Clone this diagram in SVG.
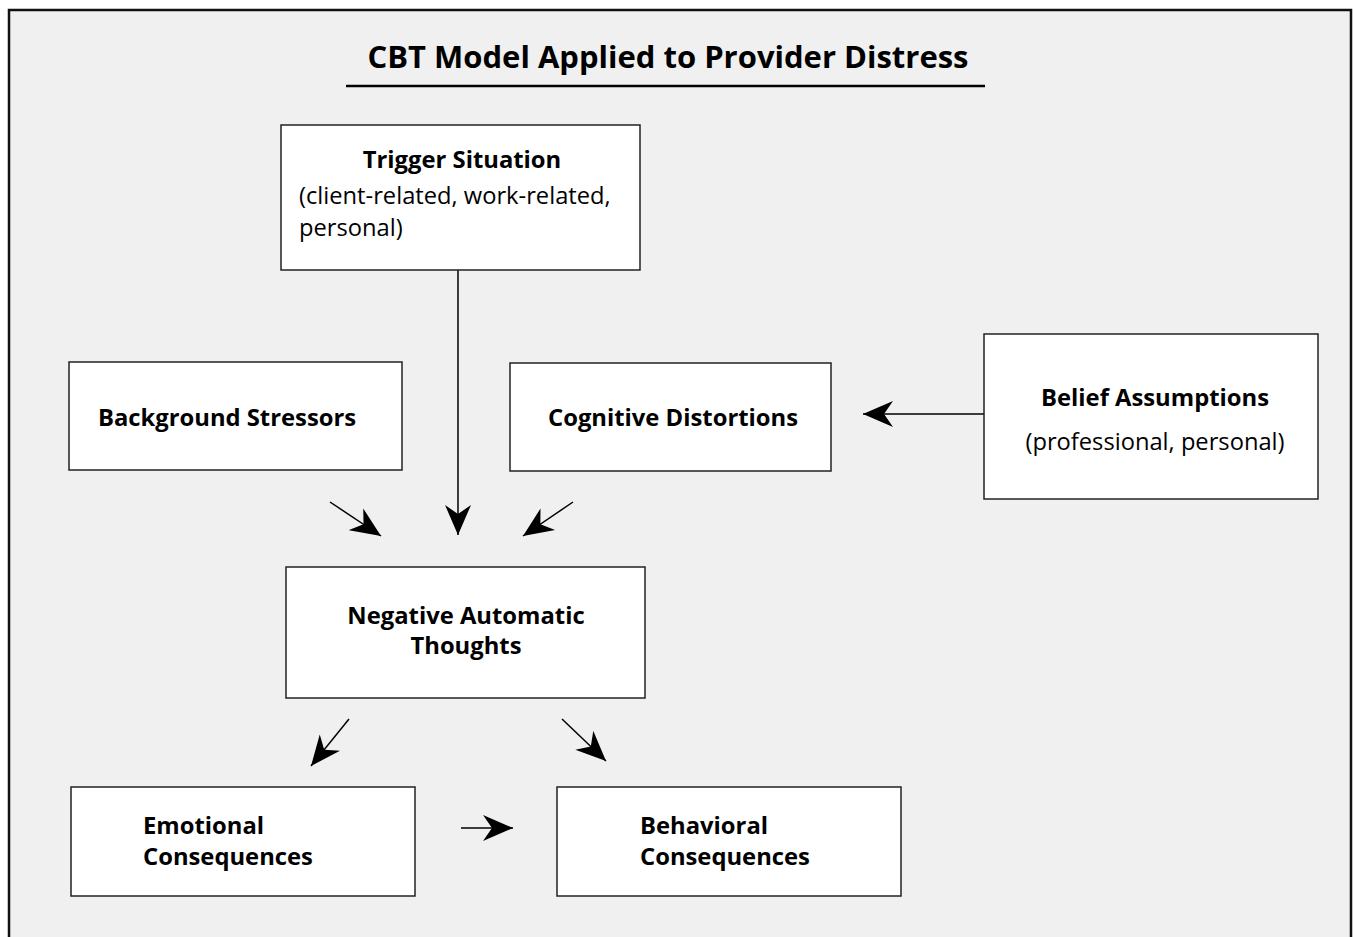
<svg xmlns="http://www.w3.org/2000/svg" width="1353" height="937" viewBox="0 0 1353 937">
<style>
.box{fill:#fff;stroke:#222;stroke-width:1.5}
.b{font-family:"Open Sans",Lato,sans-serif;font-weight:bold;font-size:23.8px;fill:#000}
.r{font-family:"Open Sans",Lato,sans-serif;font-size:23.7px;fill:#000}
.c{stroke:#000;stroke-width:1.5;fill:none;marker-end:url(#ah)}
</style>
<defs>
<marker id="ah" markerUnits="userSpaceOnUse" viewBox="0 0 30 28" refX="30" refY="14" markerWidth="30" markerHeight="28" orient="auto">
<path d="M0,1 L30,14 L0,27 L9,14 z" fill="#000"/>
</marker>
</defs>
<rect x="0" y="0" width="1353" height="937" fill="#fff"/>
<rect x="9" y="10" width="1342" height="940" fill="#f0f0f0" stroke="#111" stroke-width="2.5"/>
<g id="title">
<text x="668" y="68" text-anchor="middle" font-family="'Open Sans',Lato,sans-serif" font-weight="bold" font-size="31px">CBT Model Applied to Provider Distress</text>
<line x1="346" y1="86" x2="985" y2="86" stroke="#000" stroke-width="2.5"/>
</g>
<g id="connectors">
<line class="c" x1="458" y1="270" x2="458" y2="535"/>
<line class="c" x1="330" y1="502" x2="381" y2="536"/>
<line class="c" x1="573" y1="502" x2="523" y2="536"/>
<line class="c" x1="984" y1="414" x2="863" y2="414"/>
<line class="c" x1="349" y1="719" x2="311" y2="766"/>
<line class="c" x1="562" y1="719" x2="606" y2="761"/>
<line class="c" x1="461" y1="828" x2="513" y2="828"/>
</g>
<g id="trigger">
<rect class="box" x="281" y="125" width="359" height="145"/>
<text class="b" x="462" y="168" text-anchor="middle">Trigger Situation</text>
<text class="r" x="299" y="204">(client-related, work-related,</text>
<text class="r" x="299" y="236">personal)</text>
</g>
<g id="background">
<rect class="box" x="69" y="362" width="333" height="108"/>
<text class="b" x="227" y="426" text-anchor="middle">Background Stressors</text>
</g>
<g id="cognitive">
<rect class="box" x="510" y="363" width="321" height="108"/>
<text class="b" x="673" y="426" text-anchor="middle">Cognitive Distortions</text>
</g>
<g id="belief">
<rect class="box" x="984" y="334" width="334" height="165"/>
<text class="b" x="1155" y="406" text-anchor="middle">Belief Assumptions</text>
<text class="r" x="1155" y="450" text-anchor="middle">(professional, personal)</text>
</g>
<g id="nat">
<rect class="box" x="286" y="567" width="359" height="131"/>
<text class="b" x="466" y="624" text-anchor="middle">Negative Automatic</text>
<text class="b" x="466" y="654" text-anchor="middle">Thoughts</text>
</g>
<g id="emotional">
<rect class="box" x="71" y="787" width="344" height="109"/>
<text class="b" x="143" y="834">Emotional</text>
<text class="b" x="143" y="865">Consequences</text>
</g>
<g id="behavioral">
<rect class="box" x="557" y="787" width="344" height="109"/>
<text class="b" x="640" y="834">Behavioral</text>
<text class="b" x="640" y="865">Consequences</text>
</g>
</svg>
